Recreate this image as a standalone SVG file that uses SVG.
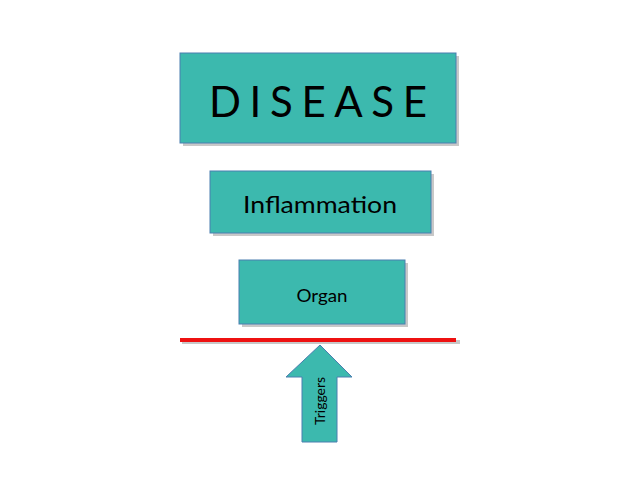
<svg xmlns="http://www.w3.org/2000/svg" width="638" height="479" viewBox="0 0 638 479">
<style>
.box{fill:#3cb9ae;stroke:#4a7eb0;stroke-width:1}
.sh{fill:#c8c8c8}
.t{font-family:Lato,"Open Sans","Liberation Sans",sans-serif;fill:#000;text-anchor:middle}
</style>
<rect width="638" height="479" fill="#fff"/>
<g id="disease">
<rect class="sh" x="183" y="56" width="276" height="90"/>
<rect class="box" x="180" y="53" width="276" height="90"/>
<text class="t" x="318" y="117" font-size="42" textLength="218" lengthAdjust="spacing">DISEASE</text>
</g>
<g id="inflammation">
<rect class="sh" x="213" y="174" width="221" height="62"/>
<rect class="box" x="210" y="171" width="221" height="62"/>
<text class="t" x="320" y="213" font-size="24" textLength="154" lengthAdjust="spacingAndGlyphs">Inflammation</text>
</g>
<g id="organ">
<rect class="sh" x="242" y="263" width="166" height="64"/>
<rect class="box" x="239" y="260" width="166" height="64"/>
<text class="t" x="322" y="302" font-size="18" textLength="51" lengthAdjust="spacingAndGlyphs">Organ</text>
</g>
<g id="barrier">
<rect class="sh" x="182" y="340" width="278" height="4"/>
<rect x="180" y="338" width="276" height="4" fill="#ee1111"/>
</g>
<g id="triggers">
<polygon class="box" points="320,345 352,377 337,377 337,442 302,442 302,377 286,377"/>
<text class="t" transform="translate(325,401) rotate(-90)" font-size="13" textLength="48" lengthAdjust="spacingAndGlyphs">Triggers</text>
</g>
<g id="connectors"></g>
</svg>
